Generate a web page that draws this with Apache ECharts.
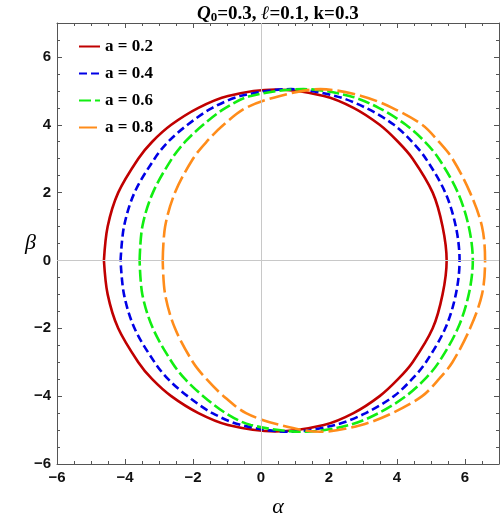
<!DOCTYPE html>
<html lang="en">
<head>
<meta charset="utf-8">
<title>shadow</title>
<script src="https://cdn.jsdelivr.net/npm/echarts@6/dist/echarts.min.js"></script>
<style>
html, body { margin: 0; padding: 0; background: #fff; }
#main { width: 500px; height: 520px; }
</style>
</head>
<body>
<div id="main"></div>
<script>
// upper half of each shadow curve, [alpha, beta]
var names = ['a = 0.2', 'a = 0.4', 'a = 0.6', 'a = 0.8'];
var upper02 = [[-4.62,0],[-4.51,1],[-4.2,2],[-3.61,3],[-3.2,3.5],[-2.64,4],[-1.84,4.5],[-0.97,4.85],[0.42,5.04],[1.85,4.85],[2.72,4.5],[3.49,4],[4.03,3.5],[4.46,3],[5.05,2],[5.34,1],[5.46,0]];
var upper04 = [[-4.13,0],[-4.03,1],[-3.72,2],[-3.13,3],[-2.73,3.5],[-2.16,4],[-1.43,4.5],[-0.55,4.86],[0.88,5.05],[2.18,4.85],[3.08,4.5],[3.91,4],[4.44,3.5],[4.85,3],[5.42,2],[5.73,1],[5.84,0]];
var upper06 = [[-3.57,0],[-3.49,1],[-3.18,2],[-2.62,3],[-2.23,3.5],[-1.7,4],[-1.04,4.5],[-0.3,4.85],[1.25,5.05],[2.6,4.85],[3.46,4.5],[4.26,4],[4.82,3.5],[5.23,3],[5.79,2],[6.11,1],[6.23,0]];
var upper08 = [[-2.89,0],[-2.82,1],[-2.53,2],[-2.0,3],[-1.6,3.5],[-1.1,4],[-0.44,4.5],[0.56,4.85],[1.75,5.05],[2.95,4.85],[3.86,4.5],[4.74,4],[5.23,3.5],[5.63,3],[6.15,2],[6.5,1],[6.59,0]];
var colors = ['#c00000', '#0000e6', '#11ee11', '#ff8c1a'];
var dashes = ['solid', [8, 4], [12, 4], [18, 5]];

// the curve is symmetric in beta: go over the top, then back along the bottom
function closed(up) {
  var pts = up.slice();
  for (var i = up.length - 2; i >= 0; i--) pts.push([up[i][0], -up[i][1]]);
  return pts;
}

var serif = 'Liberation Serif';
var sans = 'Liberation Sans';
function lab(v) {
  if (v > 6.5) return '';
  return v < 0 ? '\u2212' + (-v) : '' + v;
}

function frameAxis(pos, major, withLabel) {
  return {
    type: 'value', position: pos, min: -6, max: 7,
    interval: major ? 2 : 0.5,
    splitLine: { show: false },
    axisLine: { show: major, onZero: false, lineStyle: { color: '#555', width: 1 } },
    axisTick: { show: true, inside: true, length: major ? 5 : 3, lineStyle: { color: '#555', width: 1 } },
    axisLabel: {
      show: withLabel, formatter: lab, margin: 6,
      fontFamily: sans, fontWeight: 'bold', fontSize: 15, color: '#111'
    }
  };
}

var xAxes = [frameAxis('bottom', true, true), frameAxis('bottom', false, false),
             frameAxis('top', true, false), frameAxis('top', false, false)];
var yAxes = [frameAxis('left', true, true), frameAxis('left', false, false),
             frameAxis('right', true, false), frameAxis('right', false, false)];
xAxes[0].name = '\u03b1';
xAxes[0].nameLocation = 'middle';
xAxes[0].nameGap = 32;
xAxes[0].nameMoveOverlap = false;
xAxes[0].nameTextStyle = { fontFamily: serif, fontStyle: 'italic', fontSize: 22, color: '#000' };
yAxes[0].name = '\u03b2';
yAxes[0].nameLocation = 'middle';
yAxes[0].nameRotate = 0;
yAxes[0].nameGap = 21;
yAxes[0].nameMoveOverlap = false;
yAxes[0].nameTextStyle = { fontFamily: serif, fontStyle: 'italic', fontSize: 22, color: '#000' };

var curves = [upper02, upper04, upper06, upper08];
var series = [{
  name: 'zero', type: 'line', data: [], silent: true,
  markLine: {
    silent: true, symbol: ['none', 'none'], label: { show: false },
    lineStyle: { color: '#c8c8c8', type: 'solid', width: 1 },
    data: [{ xAxis: 0 }, { yAxis: 0 }]
  }
}];
curves.forEach(function (c, i) {
  series.push({
    name: names[i], type: 'line', data: closed(c),
    showSymbol: false, symbol: 'none', smooth: 0.33,
    lineStyle: { color: colors[i], width: 2.6, type: dashes[i] },
    itemStyle: { color: colors[i] }
  });
});

var chart = echarts.init(document.getElementById('main'));
chart.setOption({
  animation: false,
  title: {
    text: '{q|Q}{s|0}{t|=0.3, }{l|\u2113}{t|=0.1, k=0.3}',
    left: 192, top: 0,
    textStyle: {
      rich: {
        q: { fontFamily: serif, fontStyle: 'italic', fontWeight: 'bold', fontSize: 19, color: '#000' },
        s: { fontFamily: serif, fontWeight: 'bold', fontSize: 13, color: '#000', verticalAlign: 'bottom', lineHeight: 14 },
        t: { fontFamily: serif, fontWeight: 'bold', fontSize: 19, color: '#000' },
        l: { fontFamily: serif, fontStyle: 'italic', fontWeight: 'bold', fontSize: 19, color: '#000' }
      }
    }
  },
  legend: {
    data: names, orient: 'vertical', left: 78, top: 38, padding: 0,
    itemWidth: 21, itemHeight: 12, itemGap: 10,
    itemStyle: { color: 'rgba(0,0,0,0)', borderWidth: 0, opacity: 0 },
    textStyle: { fontFamily: serif, fontWeight: 'bold', fontSize: 17, color: '#000' }
  },
  grid: { left: 57, right: 1, top: 23, bottom: 56, outerBoundsMode: 'none' },
  xAxis: xAxes,
  yAxis: yAxes,
  series: series
});
</script>
</body>
</html>
